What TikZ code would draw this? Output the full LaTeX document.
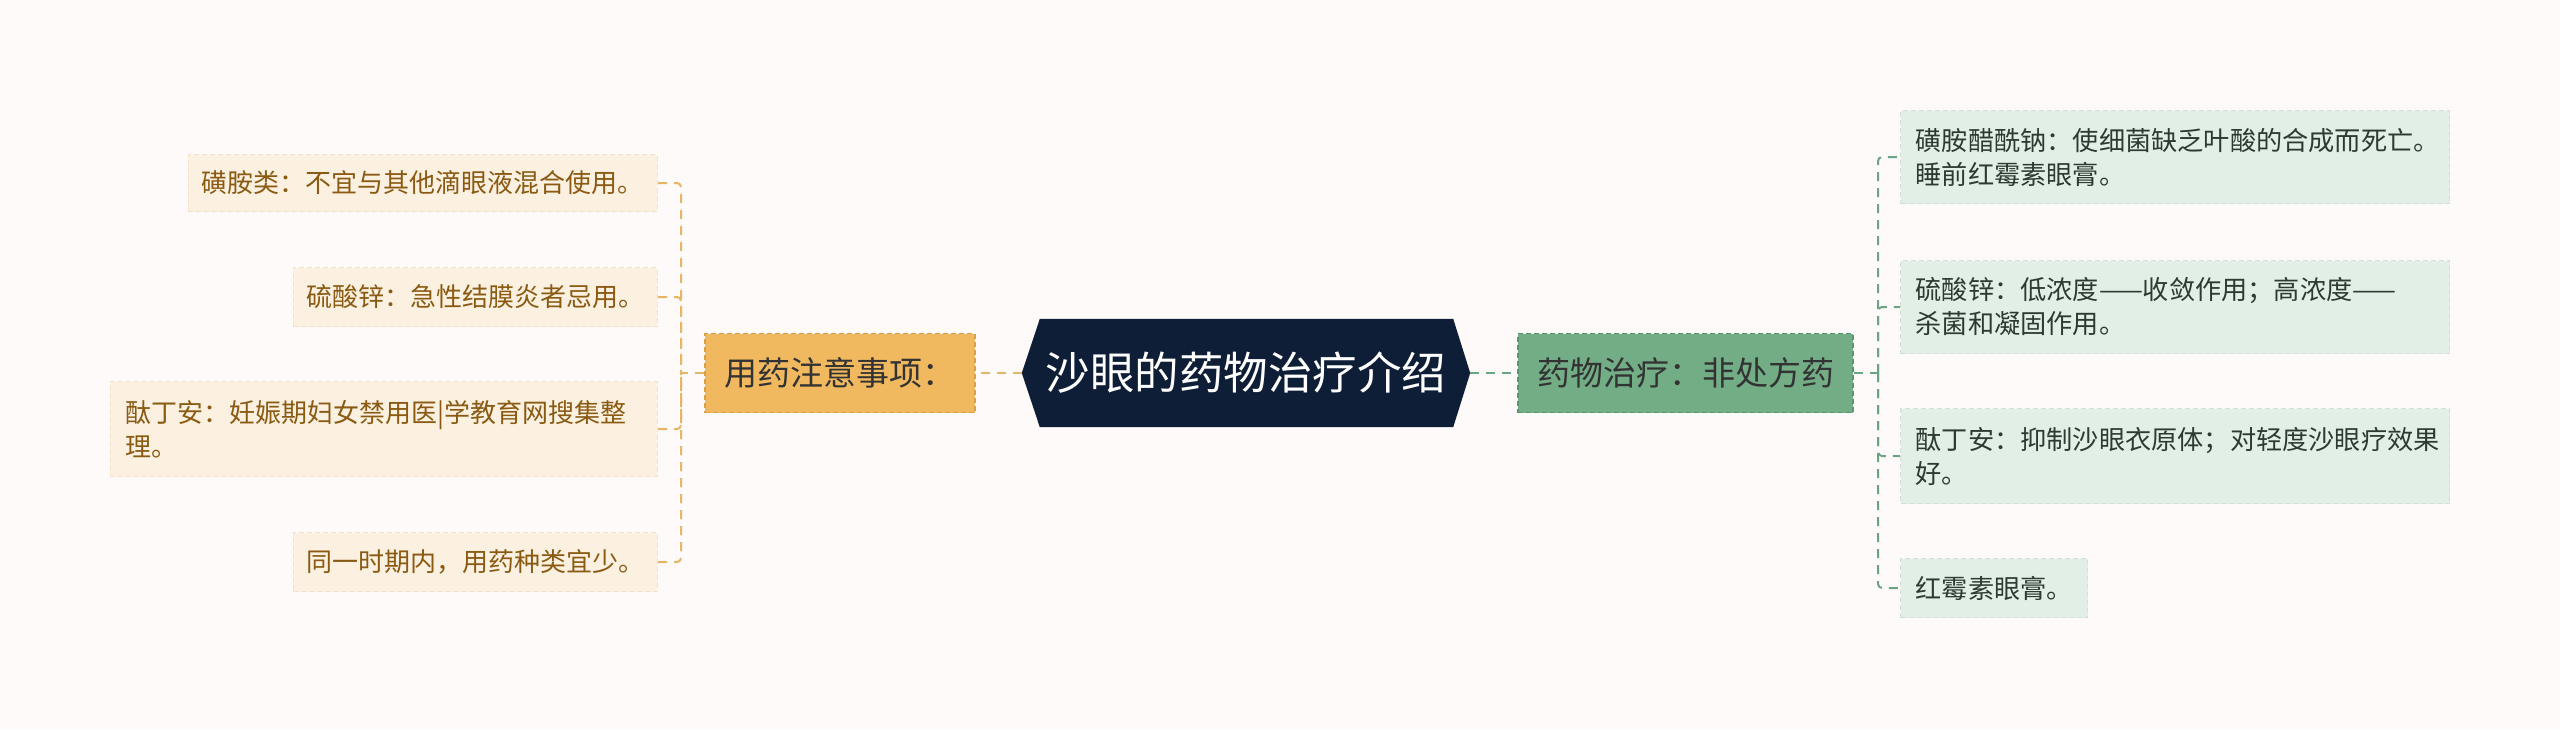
\documentclass[tikz,border=0pt]{standalone}
\usepackage{fontspec}
\newfontfamily\cjk{Noto Sans CJK SC}
\usetikzlibrary{backgrounds}
\definecolor{bgc}{HTML}{FDFAF9}
\definecolor{navy}{HTML}{0F1E37}
\definecolor{ofill}{HTML}{F0B95F}
\definecolor{oline}{HTML}{D9A04A}
\definecolor{gfill}{HTML}{72AD86}
\definecolor{gline}{HTML}{5A9570}
\definecolor{lfill}{HTML}{FCF1E1}
\definecolor{lline}{HTML}{F3E3C8}
\definecolor{ltext}{HTML}{8A5A12}
\definecolor{rfill}{HTML}{E2EFE7}
\definecolor{rline}{HTML}{D0E2D6}
\definecolor{rtext}{HTML}{2C3A30}
\definecolor{lconc}{HTML}{E6B666}
\definecolor{rconc}{HTML}{6BA483}
\tikzset{
  centerbox/.style={inner sep=0pt, minimum width=448pt, minimum height=108pt, text=white, font=\cjk\fontsize{44.5}{50}\selectfont},
  mainbox/.style={inner sep=0pt, minimum height=79pt, line width=1.6pt, dash pattern=on 5pt off 3pt, font=\cjk\fontsize{33}{40}\selectfont, text=black!80},
  lleaf/.style={anchor=east, inner xsep=11pt, inner ysep=0pt, fill=lfill, draw=lline, line width=1.2pt, dash pattern=on 5pt off 3pt, text=ltext, font=\cjk\fontsize{26}{34}\selectfont},
  rleaf/.style={anchor=west, inner xsep=15pt, inner ysep=0pt, fill=rfill, draw=rline, line width=1.2pt, dash pattern=on 5pt off 3pt, text=rtext, font=\cjk\fontsize{26.2}{34}\selectfont},
  lconn/.style={draw=lconc, line width=2pt, dash pattern=on 9pt off 7pt, rounded corners=4pt},
  rconn/.style={draw=rconc, line width=2pt, dash pattern=on 9pt off 7pt, rounded corners=4pt}
}
\begin{document}
\begin{tikzpicture}[x=1pt,y=-1pt]
\useasboundingbox (0,0) rectangle (2560,729);

% center
\node[centerbox] (c) at (1246,373) {沙眼的药物治疗介绍};
\begin{pgfonlayer}{background}
\fill[bgc] (0,0) rectangle (2560,729);
\fill[navy] (c.west) -- ([xshift=18pt]c.north west) -- ([xshift=-17pt]c.north east) -- (c.east) -- ([xshift=-17pt]c.south east) -- ([xshift=18pt]c.south west) -- cycle;
\end{pgfonlayer}

% main branches
\node[mainbox, fill=ofill, draw=oline, minimum width=270pt] (L) at (840,373) {用药注意事项：};
\node[mainbox, fill=gfill, draw=gline, minimum width=335pt] (R) at (1685.5,373) {药物治疗：非处方药};

% left leaves
\node[lleaf, minimum width=469pt, minimum height=57pt] (l1) at (658,183) {磺胺类：不宜与其他滴眼液混合使用。};
\node[lleaf, minimum width=364pt, minimum height=59pt] (l2) at (658,297) {硫酸锌：急性结膜炎者忌用。};
\node[lleaf, inner xsep=15pt, text width=517pt, align=left, minimum height=95pt] (l3) at (658,429) {酞丁安：妊娠期妇女禁用医|学教育网搜集整\\理。};
\node[lleaf, minimum width=364pt, minimum height=59pt] (l4) at (658,562) {同一时期内，用药种类宜少。};

% right leaves
\node[rleaf, text width=519pt, align=left, minimum height=93pt] (r1) at (1900,157) {磺胺醋酰钠：使细菌缺乏叶酸的合成而死亡。\\睡前红霉素眼膏。};
\node[rleaf, text width=519pt, align=left, minimum height=93pt] (r2) at (1900,307) {硫酸锌：低浓度——收敛作用；高浓度——\\杀菌和凝固作用。};
\node[rleaf, text width=519pt, align=left, minimum height=95pt] (r3) at (1900,456) {酞丁安：抑制沙眼衣原体；对轻度沙眼疗效果\\好。};
\node[rleaf, minimum width=184pt, minimum height=59pt] (r4) at (1900,588) {红霉素眼膏。};

\coordinate (lb) at (681,373);
\coordinate (rb) at (1878,373);

% connectors
\draw[lconn] (c.west) -- (L.east);
\draw[rconn] (c.east) -- (R.west);
\draw[lconn] (L.west) -- (lb);
\draw[rconn] (R.east) -- (rb);
\draw[lconn] (l1.east) -| (lb);
\draw[lconn] (l2.east) -| (lb);
\draw[lconn] (l3.east) -| (lb);
\draw[lconn] (l4.east) -| (lb);
\draw[rconn] (rb) |- (r1.west);
\draw[rconn] (rb) |- (r2.west);
\draw[rconn] (rb) |- (r3.west);
\draw[rconn] (rb) |- (r4.west);
\end{tikzpicture}
\end{document}
